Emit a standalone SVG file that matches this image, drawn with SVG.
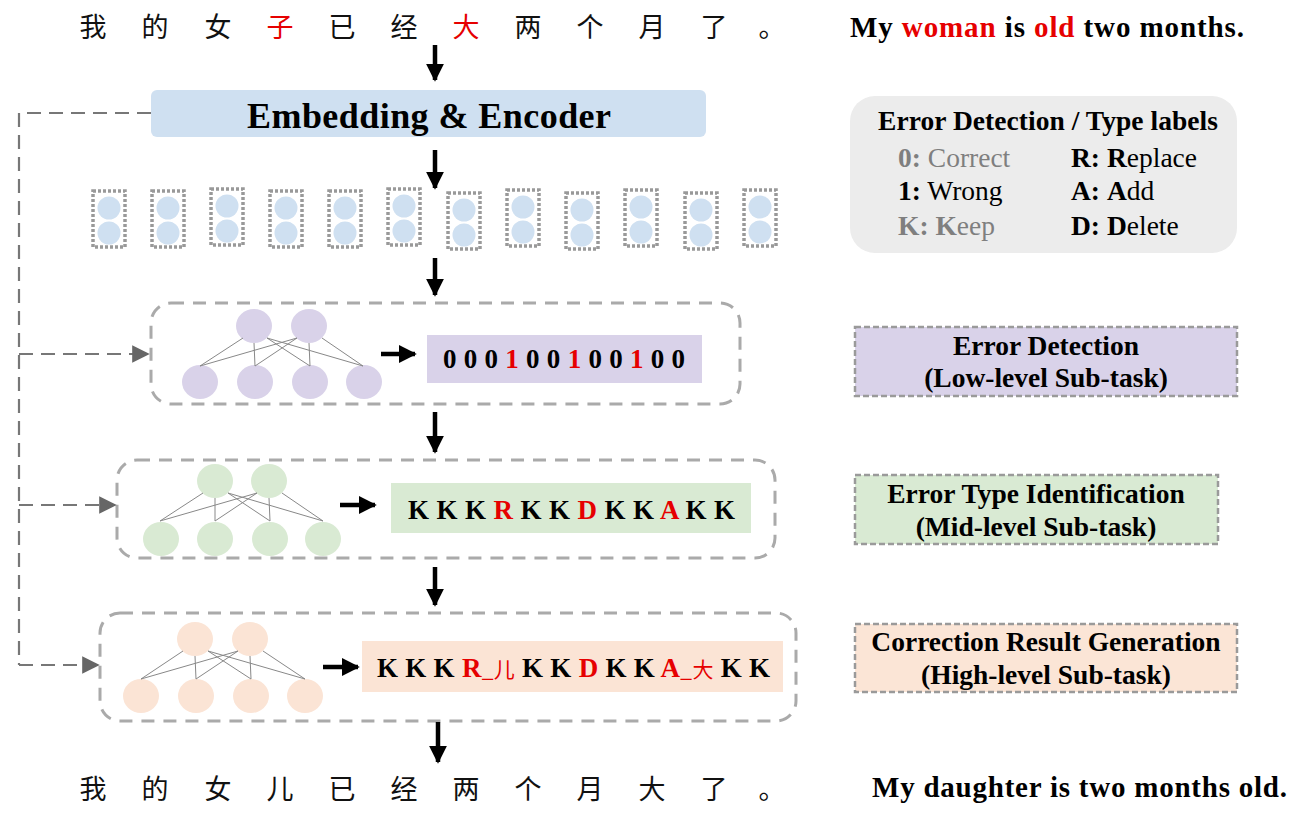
<svg xmlns="http://www.w3.org/2000/svg" width="1298" height="814" viewBox="0 0 1298 814">
<style>
.cn{font-family:"Noto Sans CJK SC","Noto Sans",sans-serif;font-size:27px;fill:#111}
.en{font-family:"Liberation Serif",serif;font-weight:bold;fill:#000}
.lbl{font-family:"Liberation Serif",serif;font-size:27.5px;fill:#000}
.red{fill:#e60000}
.gray{fill:#7f7f7f}
.b{font-weight:bold}
.arr{stroke:#000;stroke-width:4.5;fill:none}
.dash{stroke:#777;stroke-width:2.2;fill:none;stroke-dasharray:14 8}
.grp{stroke:#aaa;stroke-width:3;stroke-dasharray:13 9;fill:none}
.tok{stroke:#999;stroke-width:3.5;stroke-dasharray:3 2;fill:none}
.tc{fill:#cfe0f1}
.net{stroke:#888;stroke-width:1}
.sub{stroke:#9a9a9a;stroke-width:2.5;stroke-dasharray:6 3}
</style>
<defs>
<marker id="ah" viewBox="0 0 10 10" refX="9" refY="5" markerWidth="4" markerHeight="4" orient="auto" markerUnits="strokeWidth"><path d="M0,0 L10,5 L0,10 z" fill="#000"/></marker>
<marker id="gh" viewBox="0 0 10 10" refX="9" refY="5" markerWidth="8" markerHeight="8" orient="auto" markerUnits="strokeWidth"><path d="M0,0 L10,5 L0,10 z" fill="#666"/></marker>
</defs>

<g id="input-sentence">
<text class="cn" y="37" text-anchor="middle"><tspan x="93">我</tspan><tspan x="155">的</tspan><tspan x="218">女</tspan><tspan x="280" class="red">子</tspan><tspan x="342">已</tspan><tspan x="404">经</tspan><tspan x="466" class="red">大</tspan><tspan x="528">两</tspan><tspan x="590">个</tspan><tspan x="652">月</tspan><tspan x="714">了</tspan><tspan x="772">。</tspan></text>
<text class="en" x="850" y="37" font-size="29" textLength="394" lengthAdjust="spacing">My <tspan class="red">woman</tspan> is <tspan class="red">old</tspan> two months.</text>
</g>

<g id="encoder">
<rect x="151" y="90" width="555" height="47" rx="6" fill="#cfe0f1"/>
<text class="en" x="247" y="128" font-size="36" textLength="364" lengthAdjust="spacing">Embedding &amp; Encoder</text>
</g>

<g id="tokens">
<g transform="translate(109,0)"><rect class="tok" x="-16" y="191" width="32" height="56"/><circle class="tc" cx="0" cy="208" r="11.5"/><circle class="tc" cx="0" cy="233" r="11.5"/></g>
<g transform="translate(168,0)"><rect class="tok" x="-16" y="191" width="32" height="56"/><circle class="tc" cx="0" cy="208" r="11.5"/><circle class="tc" cx="0" cy="233" r="11.5"/></g>
<g transform="translate(227,0)"><rect class="tok" x="-16" y="189" width="32" height="56"/><circle class="tc" cx="0" cy="206" r="11.5"/><circle class="tc" cx="0" cy="231" r="11.5"/></g>
<g transform="translate(286,0)"><rect class="tok" x="-16" y="191" width="32" height="56"/><circle class="tc" cx="0" cy="208" r="11.5"/><circle class="tc" cx="0" cy="233" r="11.5"/></g>
<g transform="translate(345,0)"><rect class="tok" x="-16" y="191" width="32" height="56"/><circle class="tc" cx="0" cy="208" r="11.5"/><circle class="tc" cx="0" cy="233" r="11.5"/></g>
<g transform="translate(404,0)"><rect class="tok" x="-16" y="189" width="32" height="56"/><circle class="tc" cx="0" cy="206" r="11.5"/><circle class="tc" cx="0" cy="231" r="11.5"/></g>
<g transform="translate(464,0)"><rect class="tok" x="-16" y="193" width="32" height="56"/><circle class="tc" cx="0" cy="210" r="11.5"/><circle class="tc" cx="0" cy="235" r="11.5"/></g>
<g transform="translate(523,0)"><rect class="tok" x="-16" y="190" width="32" height="56"/><circle class="tc" cx="0" cy="207" r="11.5"/><circle class="tc" cx="0" cy="232" r="11.5"/></g>
<g transform="translate(582,0)"><rect class="tok" x="-16" y="193" width="32" height="56"/><circle class="tc" cx="0" cy="210" r="11.5"/><circle class="tc" cx="0" cy="235" r="11.5"/></g>
<g transform="translate(641,0)"><rect class="tok" x="-16" y="190" width="32" height="56"/><circle class="tc" cx="0" cy="207" r="11.5"/><circle class="tc" cx="0" cy="232" r="11.5"/></g>
<g transform="translate(701,0)"><rect class="tok" x="-16" y="193" width="32" height="56"/><circle class="tc" cx="0" cy="210" r="11.5"/><circle class="tc" cx="0" cy="235" r="11.5"/></g>
<g transform="translate(760,0)"><rect class="tok" x="-16" y="190" width="32" height="56"/><circle class="tc" cx="0" cy="207" r="11.5"/><circle class="tc" cx="0" cy="232" r="11.5"/></g>
</g>

<g id="detection">
<rect class="grp" x="151" y="303" width="589" height="101" rx="20"/>
<g fill="#d9d2e9">
<ellipse cx="254" cy="326" rx="18" ry="17"/><ellipse cx="309" cy="326" rx="18" ry="17"/>
<ellipse cx="200" cy="382" rx="18" ry="17"/><ellipse cx="255" cy="382" rx="18" ry="17"/><ellipse cx="310" cy="382" rx="18" ry="17"/><ellipse cx="364" cy="382" rx="18" ry="17"/>
</g>
<g class="net">
<line x1="243" y1="338" x2="200" y2="366"/><line x1="254" y1="343" x2="255" y2="366"/><line x1="267" y1="338" x2="310" y2="366"/><line x1="267" y1="338" x2="363" y2="366"/>
<line x1="297" y1="338" x2="200" y2="366"/><line x1="297" y1="338" x2="255" y2="366"/><line x1="309" y1="343" x2="310" y2="366"/><line x1="322" y1="338" x2="363" y2="366"/>
</g>
<rect x="427" y="335" width="275" height="48" fill="#d9d2e9"/>
<text class="en" x="443" y="368" font-size="27" textLength="242" lengthAdjust="spacing">0 0 0 <tspan class="red">1</tspan> 0 0 <tspan class="red">1</tspan> 0 0 <tspan class="red">1</tspan> 0 0</text>
</g>

<g id="type-identification">
<rect class="grp" x="117" y="460" width="658" height="98" rx="20"/>
<g fill="#d9ead3">
<ellipse cx="215" cy="481" rx="18" ry="17"/><ellipse cx="269" cy="481" rx="18" ry="17"/>
<ellipse cx="161" cy="539" rx="18" ry="17"/><ellipse cx="215" cy="539" rx="18" ry="17"/><ellipse cx="270" cy="539" rx="18" ry="17"/><ellipse cx="323" cy="539" rx="18" ry="17"/>
</g>
<g class="net">
<line x1="203" y1="493" x2="160" y2="521"/><line x1="215" y1="498" x2="215" y2="521"/><line x1="228" y1="493" x2="270" y2="521"/><line x1="228" y1="493" x2="323" y2="521"/>
<line x1="257" y1="493" x2="160" y2="521"/><line x1="257" y1="493" x2="215" y2="521"/><line x1="269" y1="498" x2="270" y2="521"/><line x1="282" y1="493" x2="323" y2="521"/>
</g>
<rect x="391" y="483" width="360" height="50" fill="#d9ead3"/>
<text class="en" x="408" y="519" font-size="27" textLength="327" lengthAdjust="spacing">K K K <tspan class="red">R</tspan> K K <tspan class="red">D</tspan> K K <tspan class="red">A</tspan> K K</text>
</g>

<g id="result-generation">
<rect class="grp" x="100" y="613" width="696" height="108" rx="20"/>
<g fill="#fbe4d5">
<ellipse cx="195" cy="639" rx="18" ry="17"/><ellipse cx="250" cy="639" rx="18" ry="17"/>
<ellipse cx="141" cy="696" rx="18" ry="17"/><ellipse cx="196" cy="696" rx="18" ry="17"/><ellipse cx="251" cy="696" rx="18" ry="17"/><ellipse cx="305" cy="696" rx="18" ry="17"/>
</g>
<g class="net">
<line x1="183" y1="651" x2="141" y2="679"/><line x1="195" y1="656" x2="196" y2="679"/><line x1="208" y1="651" x2="251" y2="679"/><line x1="208" y1="651" x2="305" y2="679"/>
<line x1="238" y1="651" x2="141" y2="679"/><line x1="238" y1="651" x2="196" y2="679"/><line x1="250" y1="656" x2="251" y2="679"/><line x1="263" y1="651" x2="305" y2="679"/>
</g>
<rect x="362" y="641" width="421" height="51" fill="#fbe4d5"/>
<text class="en" x="377" y="677" font-size="27" textLength="393" lengthAdjust="spacing">K K K <tspan class="red">R</tspan><tspan class="red" font-weight="normal" font-family="'Noto Sans CJK SC',sans-serif" font-size="21">_儿</tspan> K K <tspan class="red">D</tspan> K K <tspan class="red">A</tspan><tspan class="red" font-weight="normal" font-family="'Noto Sans CJK SC',sans-serif" font-size="21">_大</tspan> K K</text>
</g>

<g id="output-sentence">
<text class="cn" y="799" text-anchor="middle"><tspan x="93">我</tspan><tspan x="155">的</tspan><tspan x="218">女</tspan><tspan x="280">儿</tspan><tspan x="342">已</tspan><tspan x="404">经</tspan><tspan x="466">两</tspan><tspan x="528">个</tspan><tspan x="590">月</tspan><tspan x="652">大</tspan><tspan x="714">了</tspan><tspan x="772">。</tspan></text>
<text class="en" x="872" y="797" font-size="29" textLength="415" lengthAdjust="spacing">My daughter is two months old.</text>
</g>

<g id="legend">
<rect x="850" y="96" width="387" height="157" rx="25" fill="#ececec"/>
<text class="lbl b" x="878" y="130" textLength="340" lengthAdjust="spacing">Error Detection / Type labels</text>
<text class="lbl gray" x="898" y="167"><tspan class="b">0:</tspan> Correct</text>
<text class="lbl" x="898" y="200"><tspan class="b">1:</tspan> Wrong</text>
<text class="lbl gray" x="898" y="235"><tspan class="b">K:</tspan> <tspan class="b">K</tspan>eep</text>
<text class="lbl" x="1071" y="167"><tspan class="b">R:</tspan> <tspan class="b">R</tspan>eplace</text>
<text class="lbl" x="1071" y="200"><tspan class="b">A:</tspan> <tspan class="b">A</tspan>dd</text>
<text class="lbl" x="1071" y="235"><tspan class="b">D:</tspan> <tspan class="b">D</tspan>elete</text>
</g>

<g id="label-detection">
<rect class="sub" x="855" y="327" width="382" height="69" fill="#d9d2e9"/>
<text class="lbl b" x="1046" y="355" text-anchor="middle">Error Detection</text>
<text class="lbl b" x="1046" y="387" text-anchor="middle">(Low-level Sub-task)</text>
</g>
<g id="label-type">
<rect class="sub" x="855" y="475" width="363" height="69" fill="#d9ead3"/>
<text class="lbl b" x="1036" y="503" text-anchor="middle">Error Type Identification</text>
<text class="lbl b" x="1036" y="536" text-anchor="middle">(Mid-level Sub-task)</text>
</g>
<g id="label-generation">
<rect class="sub" x="855" y="624" width="382" height="68" fill="#fbe5d6"/>
<text class="lbl b" x="1046" y="651" text-anchor="middle">Correction Result Generation</text>
<text class="lbl b" x="1046" y="684" text-anchor="middle">(High-level Sub-task)</text>
</g>

<g id="connectors">
<line class="arr" x1="435" y1="45" x2="435" y2="80" marker-end="url(#ah)"/>
<line class="arr" x1="435" y1="150" x2="435" y2="188" marker-end="url(#ah)"/>
<line class="arr" x1="435" y1="258" x2="435" y2="295" marker-end="url(#ah)"/>
<line class="arr" x1="435" y1="412" x2="435" y2="452" marker-end="url(#ah)"/>
<line class="arr" x1="435" y1="567" x2="435" y2="605" marker-end="url(#ah)"/>
<line class="arr" x1="438" y1="722" x2="438" y2="762" marker-end="url(#ah)"/>
<line class="arr" x1="381" y1="354" x2="415" y2="354" marker-end="url(#ah)"/>
<line class="arr" x1="340" y1="505" x2="375" y2="505" marker-end="url(#ah)"/>
<line class="arr" x1="323" y1="667" x2="358" y2="667" marker-end="url(#ah)"/>
<polyline class="dash" points="151,113 19,113 19,665"/>
<line class="dash" x1="19" y1="354" x2="148" y2="354" marker-end="url(#gh)"/>
<line class="dash" x1="19" y1="505" x2="115" y2="505" marker-end="url(#gh)"/>
<line class="dash" x1="19" y1="665" x2="98" y2="665" marker-end="url(#gh)"/>
</g>
</svg>
